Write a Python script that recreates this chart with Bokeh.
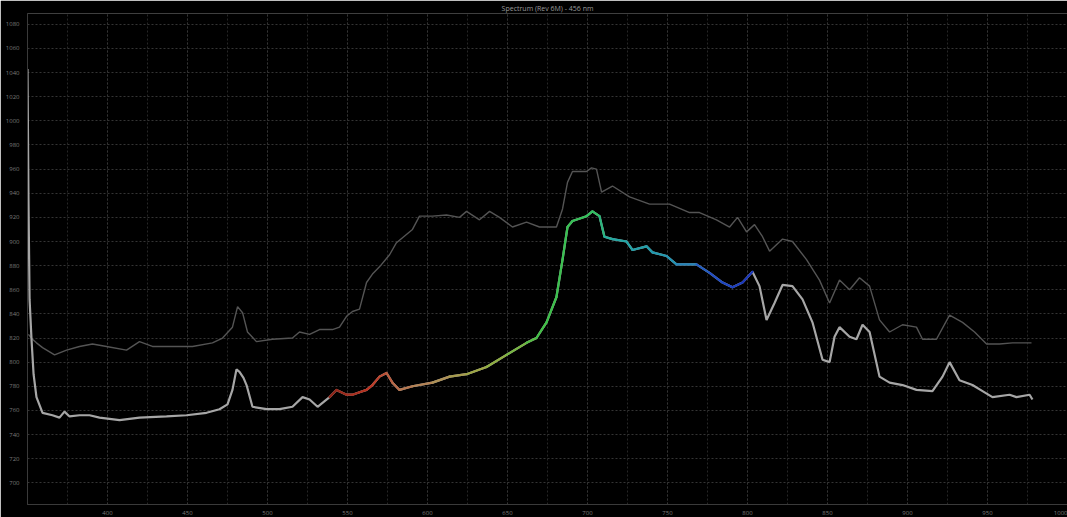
from bokeh.plotting import figure
from bokeh.models import FixedTicker, Range1d
from bokeh.embed import file_html
from bokeh.resources import INLINE

# Measured sample spectrum: wavelength (nm) and intensity (counts)
wl_sample = [350.0, 350.6, 351.3, 352.5, 353.8, 355.6, 359.4, 365.6, 370.0, 373.1,
             376.3, 382.5, 388.8, 395.0, 407.5, 420.0, 436.9, 449.4, 461.9, 470.0,
             475.0, 478.1, 480.6, 482.5, 485.0, 486.9, 490.6, 499.4, 507.5, 515.6,
             521.9, 526.3, 531.3, 538.8, 543.1, 549.4, 553.1, 557.5, 561.9, 565.6,
             570.0, 574.4, 578.1, 582.5, 590.6, 603.1, 613.8, 624.4, 636.9, 649.4,
             661.9, 668.1, 674.4, 680.6, 684.4, 687.5, 690.6, 699.4, 703.1, 707.5,
             710.6, 715.6, 724.4, 728.1, 736.9, 740.6, 749.4, 755.6, 768.1, 776.3,
             784.4, 790.6, 796.9, 803.1, 807.5, 811.9, 816.9, 821.9, 828.1, 834.4,
             840.6, 846.9, 851.3, 854.4, 857.5, 863.8, 868.1, 871.9, 876.3, 882.5,
             888.8, 896.9, 905.6, 915.6, 921.9, 926.3, 932.5, 940.6, 946.9, 953.1,
             963.8, 968.1, 976.3, 978.1]
int_sample = [1043, 935, 852, 819, 790, 771, 758, 756, 754, 759,
              755, 756, 756, 754, 752, 754, 755, 756, 758, 761,
              765, 777, 794, 792, 787, 781, 763, 761, 761, 763,
              771, 769, 763, 771, 777, 773, 773, 775, 777, 781,
              788, 791, 783, 777, 780, 783, 788, 790, 796, 806,
              816, 820, 833, 854, 885, 912, 917, 921, 925, 921,
              904, 902, 900, 893, 896, 891, 888, 881, 881, 874,
              866, 862, 866, 875, 863, 835, 849, 864, 863, 852,
              833, 802, 800, 821, 829, 821, 819, 831, 825, 788,
              783, 781, 777, 776, 788, 800, 785, 781, 776, 771,
              773, 771, 773, 769]

# Reference spectrum
wl_ref = [350.6, 353.1, 355.6, 359.4, 366.9, 374.4, 382.5, 390.6, 399.4, 411.9,
          420.0, 428.1, 440.6, 453.1, 465.6, 471.9, 478.1, 481.3, 484.4, 487.5,
          493.1, 503.1, 515.6, 520.0, 526.3, 532.5, 540.6, 545.0, 549.4, 553.1,
          557.5, 561.9, 565.6, 570.0, 576.3, 580.6, 590.6, 595.0, 603.1, 611.9,
          620.0, 624.4, 632.5, 638.8, 645.0, 653.1, 661.9, 670.0, 680.6, 684.4,
          687.5, 690.6, 699.4, 702.5, 705.6, 708.8, 715.6, 726.3, 738.8, 751.3,
          763.8, 770.0, 780.6, 788.8, 793.8, 799.4, 804.4, 809.4, 813.8, 821.9,
          828.1, 836.9, 845.0, 851.3, 857.5, 863.8, 870.0, 876.3, 882.5, 888.8,
          896.9, 905.6, 909.4, 918.1, 926.3, 934.4, 941.9, 949.4, 957.5, 965.6,
          977.5]
int_ref = [823, 819, 816, 812, 806, 810, 813, 815, 813, 810,
           817, 813, 813, 813, 816, 820, 829, 846, 841, 825,
           817, 819, 820, 825, 823, 827, 827, 829, 838, 842,
           844, 866, 873, 879, 889, 899, 910, 921, 921, 922,
           920, 925, 918, 925, 920, 912, 916, 912, 912, 927,
           949, 958, 958, 961, 960, 941, 946, 937, 931, 931,
           924, 924, 918, 912, 920, 908, 914, 904, 892, 902,
           900, 885, 868, 849, 868, 860, 870, 863, 835, 825,
           831, 829, 819, 819, 839, 833, 825, 815, 815, 816,
           816]

x_ticks = [400, 450, 500, 550, 600, 650, 700, 750, 800, 850, 900, 950, 1000]
y_ticks = [700, 720, 740, 760, 780, 800, 820, 840, 860, 880,
           900, 920, 940, 960, 980, 1000, 1020, 1040, 1060, 1080]

TITLE = "Spectrum (Rev 6M) - 456 nm"

# colour ramp used to highlight the analysed band of the sample trace
BAND = (538.8, 803.1)
RAMP = [(538.8, "#8a2418"), (565.0, "#be3422"), (582.0, "#b8704c"),
        (605.0, "#b08c58"), (628.0, "#a0a444"), (652.0, "#84b440"),
        (672.0, "#3ec046"), (705.0, "#30c060"), (714.0, "#22aaa0"),
        (758.0, "#2290b4"), (775.0, "#2252c4"), (803.1, "#1a34b8")]


def _rgb(h):
    return tuple(int(h[i:i + 2], 16) for i in (1, 3, 5))


def ramp_color(x):
    if x <= RAMP[0][0]:
        return RAMP[0][1]
    for (xa, ca), (xb, cb) in zip(RAMP[:-1], RAMP[1:]):
        if xa <= x <= xb:
            t = (x - xa) / (xb - xa)
            a, b = _rgb(ca), _rgb(cb)
            return "#%02x%02x%02x" % tuple(round(a[i] + (b[i] - a[i]) * t) for i in range(3))
    return RAMP[-1][1]


p = figure(width=1067, height=517, output_backend="svg", toolbar_location=None,
           x_range=Range1d(350, 1000), y_range=Range1d(682, 1089),
           background_fill_color="#000000", border_fill_color="#000000",
           min_border_left=27, min_border_right=0, min_border_top=0,
           min_border_bottom=0, title=TITLE)
p.outline_line_color = None

p.title.align = "center"
p.title.text_color = "#9a9a9a"
p.title.text_font = "Open Sans"
p.title.text_font_size = "7px"
p.title.text_font_style = "normal"
p.title.standoff = 2

p.xaxis.ticker = FixedTicker(ticks=x_ticks, minor_ticks=list(range(350, 1001, 25)))
p.yaxis.ticker = FixedTicker(ticks=y_ticks)
for ax in (p.xaxis, p.yaxis):
    ax.major_label_text_color = "#7a7a7a"
    ax.major_label_text_font = "Open Sans"
    ax.major_label_text_font_size = "6px"
    ax.axis_line_color = "#3a3a3a"
    ax.major_tick_line_color = None
    ax.minor_tick_line_color = None
p.xaxis.major_label_standoff = 0
p.yaxis.major_label_standoff = 2

p.xgrid.grid_line_color = "#343434"
p.xgrid.grid_line_dash = "2 2"
p.xgrid.minor_grid_line_color = "#262626"
p.xgrid.minor_grid_line_dash = "2 2"
p.ygrid.grid_line_color = "#343434"
p.ygrid.grid_line_dash = "2 2"

# reference trace
p.line(wl_ref, int_ref, line_color="#545454", line_width=1.4)

# sample trace
p.line(wl_sample, int_sample, line_color="#a6a6a6", line_width=2.2)

# coloured band over the sample trace
x0, y0, x1, y1, cols = [], [], [], [], []
for i in range(len(wl_sample) - 1):
    xa, xb = wl_sample[i], wl_sample[i + 1]
    if xa >= BAND[0] and xb <= BAND[1]:
        x0.append(xa)
        y0.append(int_sample[i])
        x1.append(xb)
        y1.append(int_sample[i + 1])
        cols.append(ramp_color((xa + xb) / 2))
p.segment(x0=x0, y0=y0, x1=x1, y1=y1, line_color=cols, line_width=2.2,
          line_cap="round")

open("out.html", "w").write(file_html(p, INLINE))
